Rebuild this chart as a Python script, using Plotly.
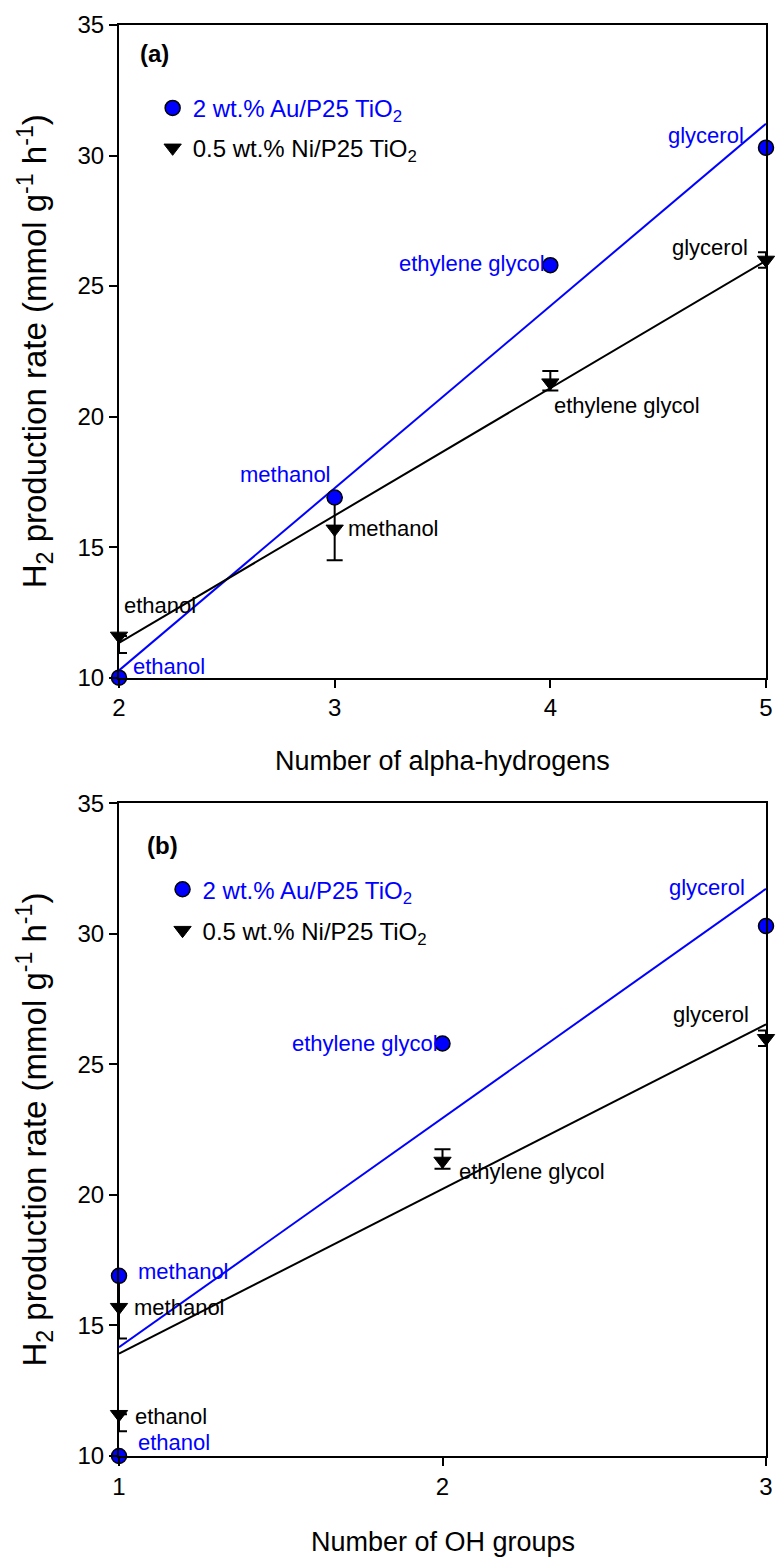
import numpy as np
import plotly.graph_objects as go

# H2 production rate for four alcohols over two catalysts
solvents = ["ethanol", "methanol", "ethylene glycol", "glycerol"]
alpha_h = [2, 3, 4, 5]          # number of alpha-hydrogens
oh_groups = [1, 1, 2, 3]        # number of OH groups
au_rate = [10.0, 16.9, 25.8, 30.3]
ni_rate = [11.6, 15.7, 21.3, 26.0]
ni_err_plus = [0.0, 1.2, 0.45, 0.3]
ni_err_minus = [0.65, 1.2, 0.3, 0.3]

y_ticks = [10, 15, 20, 25, 30, 35]

FONT = "Liberation Sans, Arial, sans-serif"
BLUE = "#0000FF"
BLACK = "#000000"

# label placement around each point: (xanchor, xshift, yshift)
label_pos = {
    "a": {
        "au": [("left", 12, 11), ("right", -2, 23), ("right", -3, 2), ("right", -20, 12)],
        "ni": [("left", 3, 30), ("left", 11, 0), ("left", 2, -23), ("right", -16, 12)],
    },
    "b": {
        "au": [("left", 17, 14), ("left", 17, 4), ("right", -3, 0), ("right", -19, 39)],
        "ni": [("left", 14, -2), ("left", 13, 0), ("left", 14, -11), ("right", -15, 24)],
    },
}

fig = go.Figure()


def add_panel(tag, xs, xr, yr, leg_au, leg_ni):
    # linear regression lines
    for ys, col in ((au_rate, BLUE), (ni_rate, BLACK)):
        k, b = np.polyfit(xs, ys, 1)
        xl = np.array([min(xs), max(xs)], dtype=float)
        fig.add_trace(go.Scatter(
            x=xl, y=k * xl + b, mode="lines", xaxis=xr, yaxis=yr,
            line=dict(color=col, width=2), showlegend=False, hoverinfo="skip",
        ))

    fig.add_trace(go.Scatter(
        x=xs, y=ni_rate, mode="markers", xaxis=xr, yaxis=yr,
        name="0.5 wt.% Ni/P25 TiO<sub>2</sub>", legend=leg_ni,
        marker=dict(symbol="triangle-down", size=15, color=BLACK,
                    line=dict(color=BLACK, width=1)),
        error_y=dict(type="data", array=ni_err_plus, arrayminus=ni_err_minus,
                     color=BLACK, thickness=2, width=8, symmetric=False),
        cliponaxis=False,
    ))
    fig.add_trace(go.Scatter(
        x=xs, y=au_rate, mode="markers", xaxis=xr, yaxis=yr,
        name="2 wt.% Au/P25 TiO<sub>2</sub>", legend=leg_au,
        marker=dict(symbol="circle", size=15, color=BLUE,
                    line=dict(color=BLACK, width=1.5)),
        cliponaxis=False,
    ))

    for series, ys, col in (("au", au_rate, BLUE), ("ni", ni_rate, BLACK)):
        for i, name in enumerate(solvents):
            xa, dx, dy = label_pos[tag][series][i]
            fig.add_annotation(
                x=xs[i], y=ys[i], xref=xr, yref=yr, text=name, showarrow=False,
                xanchor=xa, yanchor="middle", xshift=dx, yshift=dy,
                font=dict(family=FONT, size=22, color=col),
            )


add_panel("a", alpha_h, "x", "y", "legend", "legend2")
add_panel("b", oh_groups, "x2", "y2", "legend3", "legend4")

axis_common = dict(
    showline=True, linewidth=2, linecolor=BLACK, mirror=True,
    ticks="outside", ticklen=8, tickwidth=2, tickcolor=BLACK,
    showgrid=False, zeroline=False,
    tickfont=dict(family=FONT, size=24, color=BLACK),
)


def legend_box(x, y, color):
    return dict(x=x, y=y, xanchor="left", yanchor="top",
                font=dict(family=FONT, size=24, color=color),
                bgcolor="rgba(0,0,0,0)")


fig.update_layout(
    width=784, height=1559,
    margin=dict(l=119, r=11, t=22, b=103),
    paper_bgcolor="white", plot_bgcolor="white",
    xaxis=dict(domain=[0, 1], range=[2, 5], tickvals=alpha_h, anchor="y",
               ticklabelstandoff=0, **axis_common),
    yaxis=dict(domain=[0.5439, 1], range=[10, 35], tickvals=y_ticks, anchor="x",
               ticklabelstandoff=0, **axis_common),
    xaxis2=dict(domain=[0, 1], range=[1, 3], tickvals=[1, 2, 3], anchor="y2",
                ticklabelstandoff=0, **axis_common),
    yaxis2=dict(domain=[0, 0.4561], range=[10, 35], tickvals=y_ticks, anchor="x2",
                ticklabelstandoff=0, **axis_common),
    legend=legend_box(0.052, 0.9575, BLUE),
    legend2=legend_box(0.052, 0.9296, BLACK),
    legend3=legend_box(0.0673, 0.4115, BLUE),
    legend4=legend_box(0.0673, 0.3829, BLACK),
    showlegend=True,
)

# panel tags
fig.add_annotation(x=0.055, y=0.956, xref="x domain", yref="y domain", text="<b>(a)</b>",
                   xanchor="center", yanchor="middle",
                   showarrow=False, font=dict(family=FONT, size=24, color=BLACK))
fig.add_annotation(x=0.068, y=0.936, xref="x2 domain", yref="y2 domain", text="<b>(b)</b>",
                   xanchor="center", yanchor="middle",
                   showarrow=False, font=dict(family=FONT, size=24, color=BLACK))

# axis titles
ytitle = "H<sub>2</sub> production rate (mmol g<sup>-1</sup> h<sup>-1</sup>)"
for xd, yd in (("x domain", "y domain"), ("x2 domain", "y2 domain")):
    fig.add_annotation(x=-0.13, y=0.5, xref=xd, yref=yd, text=ytitle, textangle=-90,
                       showarrow=False, xanchor="center", yanchor="middle",
                       font=dict(family=FONT, size=33, color=BLACK))
fig.add_annotation(x=0.5, y=-0.128, xref="x domain", yref="y domain",
                   text="Number of alpha-hydrogens", showarrow=False,
                   xanchor="center", yanchor="middle",
                   font=dict(family=FONT, size=27, color=BLACK))
fig.add_annotation(x=0.5, y=-0.132, xref="x2 domain", yref="y2 domain",
                   text="Number of OH groups", showarrow=False,
                   xanchor="center", yanchor="middle",
                   font=dict(family=FONT, size=27, color=BLACK))

fig.write_html("out.html")
